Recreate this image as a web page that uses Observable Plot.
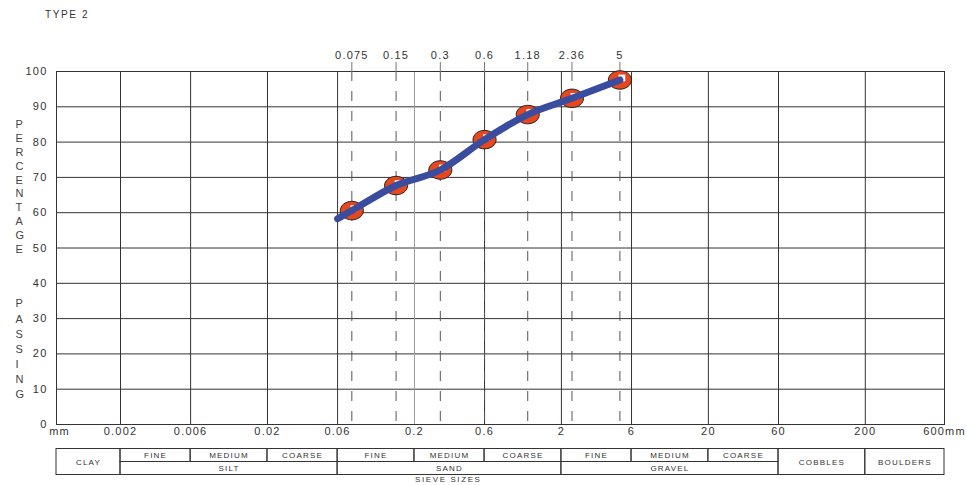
<!DOCTYPE html>
<html>
<head>
<meta charset="utf-8">
<script src="https://cdn.jsdelivr.net/npm/d3@7"></script>
<script src="https://cdn.jsdelivr.net/npm/@observablehq/plot@0.6"></script>
<style>
  html, body { margin: 0; padding: 0; background: #fff; width: 967px; height: 485px; overflow: hidden; }
  #title { height: 25px; font: 10px "Liberation Sans", Arial, sans-serif; line-height: 29px; padding-left: 45px; letter-spacing: 1.6px; color: #333; }
  #caption { height: 10px; font: 8px "Liberation Sans", Arial, sans-serif; line-height: 10px; padding-left: 415px; letter-spacing: 1.6px; color: #333; }
  svg { display: block; }
  svg text { letter-spacing: 1.2px; }
</style>
</head>
<body>
<div id="title">TYPE 2</div>
<div id="chart"></div>
<div id="table"></div>
<div id="caption">SIEVE SIZES</div>
<script>
// ---- data ----
const sieveSizes = [0.075, 0.15, 0.3, 0.6, 1.18, 2.36, 5];
const passing = [60.6, 67.7, 72.1, 80.7, 87.8, 92.4, 97.6];
const curveSizes = [0.06, 0.075, 0.15, 0.3, 0.6, 1.18, 2.36, 5];
const curvePassing = [58.3, 60.6, 67.7, 72.1, 80.7, 87.8, 92.4, 97.6];
const gridSizes = [0.002, 0.006, 0.02, 0.06, 0.6, 2, 6, 20, 60, 200];
const lightGridSizes = [0.2];
const xTickValues = [0.0006, 0.002, 0.006, 0.02, 0.06, 0.2, 0.6, 2, 6, 20, 60, 200, 600];
const xTickLabels = ["mm", "0.002", "0.006", "0.02", "0.06", "0.2", "0.6", "2", "6", "20", "60", "200", "600mm"];
const sieveLabels = ["0.075", "0.15", "0.3", "0.6", "1.18", "2.36", "5"];
const yTicks = [0, 10, 20, 30, 40, 50, 60, 70, 80, 90, 100];
const yGrid = [10, 20, 30, 40, 50, 60, 70, 80, 90];
// classification table
const subLabels = ["FINE", "MEDIUM", "COARSE", "FINE", "MEDIUM", "COARSE", "FINE", "MEDIUM", "COARSE"];
const subBounds = [0.002, 0.006, 0.02, 0.06, 0.2, 0.6, 2, 6, 20, 60];
const mainLabels = ["SILT", "SAND", "GRAVEL"];
const mainBounds = [0.002, 0.06, 2, 60];
const fullLabels = ["CLAY", "COBBLES", "BOULDERS"];
const fullLo = [0.0006, 60, 200];
const fullHi = [0.002, 200, 600];

// ---- scales (piecewise log, as the sheet is drawn) ----
const xScale = {type: "log", domain: [0.0006, 0.002, 60, 600], range: [56, 120, 778, 944]};

const pts = sieveSizes.map((s, i) => ({size: s, pass: passing[i], label: sieveLabels[i]}));
const curve = curveSizes.map((s, i) => ({size: s, pass: curvePassing[i]}));
const xTicks = xTickValues.map((v, i) => ({v, label: xTickLabels[i]}));
const xTicksInner = xTicks.slice(1);
const xTicksFirst = xTicks.slice(0, 1);

const ellipse = {
  draw(context, size) {
    const r = Math.sqrt(size / Math.PI);
    const rx = r * 1.1, ry = r * 0.88, k = 0.5523;
    context.moveTo(rx, 0);
    context.bezierCurveTo(rx, ry * k, rx * k, ry, 0, ry);
    context.bezierCurveTo(-rx * k, ry, -rx, ry * k, -rx, 0);
    context.bezierCurveTo(-rx, -ry * k, -rx * k, -ry, 0, -ry);
    context.bezierCurveTo(rx * k, -ry, rx, -ry * k, rx, 0);
    context.closePath();
  }
};

const font = "'Liberation Sans', Arial, sans-serif";

const chart = Plot.plot({
  width: 967,
  height: 423,
  marginTop: 46,
  marginBottom: 24,
  marginLeft: 56,
  marginRight: 23,
  style: {fontFamily: font, fontSize: "11px", color: "#333", background: "#fff", overflow: "visible"},
  x: xScale,
  y: {domain: [0, 100]},
  marks: [
    Plot.ruleY(yGrid, {stroke: "#333", strokeOpacity: 1}),
    Plot.ruleX(lightGridSizes, {stroke: "#999"}),
    Plot.ruleX(gridSizes, {stroke: "#333"}),
    Plot.ruleX(sieveSizes, {stroke: "#555", strokeDasharray: "10,10"}),
    Plot.frame({stroke: "#333"}),
    Plot.axisY({ticks: yTicks, tickSize: 0, tickPadding: 9, label: null, fill: "#333"}),
    Plot.axisX({anchor: "top", ticks: sieveSizes, tickSize: 10, label: null, stroke: "#777", fill: "none"}),
    Plot.text(pts, {x: "size", text: "label", frameAnchor: "top", dy: -20, fill: "#333", fontSize: 11}),
    Plot.text(xTicksInner, {x: "v", text: "label", frameAnchor: "bottom", dy: 10, fill: "#333", fontSize: 11}),
    Plot.text(xTicksFirst, {x: "v", text: "label", frameAnchor: "bottom", dy: 10, dx: 3, fill: "#333", fontSize: 11}),
    Plot.dot(pts, {x: "size", y: "pass", r: 10.5, symbol: ellipse, fill: "#e8471d", stroke: "#222", strokeWidth: 1}),
    Plot.dot(pts, {x: "size", y: "pass", r: 3.8, symbol: "square", fill: "#fff", dx: 2, dy: -2}),
    Plot.line(curve, {x: "size", y: "pass", stroke: "#3a4c9e", strokeWidth: 7, strokeLinecap: "round", curve: "monotone-x"}),
    Plot.text(["P\nE\nR\nC\nE\nN\nT\nA\nG\nE"], {frameAnchor: "left", dx: -41, dy: -62, lineHeight: 1.26, fontSize: 11, fill: "#444", text: d => d}),
    Plot.text(["P\nA\nS\nS\nI\nN\nG"], {frameAnchor: "left", dx: -41, dy: 100, lineHeight: 1.38, fontSize: 11, fill: "#444", text: d => d})
  ]
});
document.getElementById("chart").append(chart);

const subCells = subLabels.map((l, i) => ({label: l, lo: subBounds[i], hi: subBounds[i + 1]}));
const mainCells = mainLabels.map((l, i) => ({label: l, lo: mainBounds[i], hi: mainBounds[i + 1]}));
const fullCells = fullLabels.map((l, i) => ({label: l, lo: fullLo[i], hi: fullHi[i]}));
const mid = d => Math.sqrt(d.lo * d.hi);

const table = Plot.plot({
  width: 967,
  height: 27,
  marginTop: 0,
  marginBottom: 0,
  marginLeft: 56,
  marginRight: 23,
  style: {fontFamily: font, fontSize: "8px", color: "#333", background: "#fff", overflow: "visible"},
  x: {...xScale, axis: null},
  y: {domain: [0, 2], range: [0.5, 26.5], axis: null},
  marks: [
    Plot.rect(subCells, {x1: "lo", x2: "hi", y1: 0, y2: 1, fill: "none", stroke: "#333"}),
    Plot.rect(mainCells, {x1: "lo", x2: "hi", y1: 1, y2: 2, fill: "none", stroke: "#333"}),
    Plot.rect(fullCells, {x1: "lo", x2: "hi", y1: 0, y2: 2, fill: "none", stroke: "#333"}),
    Plot.text(subCells, {x: mid, y: 0.5, text: "label", fill: "#333", fontSize: 8}),
    Plot.text(mainCells, {x: mid, y: 1.5, text: "label", fill: "#333", fontSize: 8}),
    Plot.text(fullCells, {x: mid, y: 1, text: "label", fill: "#333", fontSize: 8})
  ]
});
document.getElementById("table").append(table);
</script>
</body>
</html>
